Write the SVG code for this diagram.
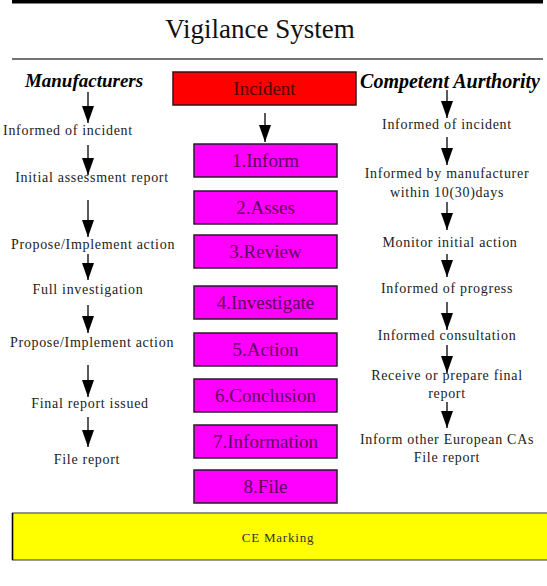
<svg xmlns="http://www.w3.org/2000/svg" width="547" height="586" viewBox="0 0 547 586">
<defs>
<marker id="ah" markerUnits="userSpaceOnUse" markerWidth="18" markerHeight="12" refX="17" refY="6" orient="auto">
<path d="M0,0 L17,6 L0,12 z" fill="#000"/>
</marker>
<style>
text{font-family:"Liberation Serif","Tinos","Times New Roman","DejaVu Serif",serif}
.side{font-size:14px;letter-spacing:0.7px;fill:#222;text-anchor:middle}
.hdr{font-size:19px;font-weight:bold;font-style:italic;fill:#000;text-anchor:middle}
.step rect{fill:#ff00ff;stroke:#2a1a2a;stroke-width:1.5}
.step text{font-size:19px;fill:#5e005e;text-anchor:middle}
.arr{stroke:#000;stroke-width:1.3;fill:none;marker-end:url(#ah)}
</style>
</defs>
<rect width="547" height="586" fill="#fff"/>
<rect x="12" y="0" width="531" height="3.5" fill="#000"/>
<text x="260" y="38" font-size="27" fill="#111" text-anchor="middle">Vigilance System</text>
<line x1="12" y1="59" x2="543" y2="59" stroke="#444" stroke-width="1.5"/>

<g id="manufacturers">
<text class="hdr" x="84" y="87">Manufacturers</text>
<text class="side" x="68" y="135">Informed of incident</text>
<text class="side" x="92" y="182">Initial assessment report</text>
<text class="side" x="93" y="249">Propose/Implement action</text>
<text class="side" x="88" y="294">Full investigation</text>
<text class="side" x="92" y="347">Propose/Implement action</text>
<text class="side" x="90" y="408">Final report issued</text>
<text class="side" x="87" y="464">File report</text>
</g>

<g id="authority">
<text class="hdr" x="450" y="88" style="font-size:20px">Competent Aurthority</text>
<text class="side" x="447" y="129">Informed of incident</text>
<text class="side" x="447" y="178">Informed by manufacturer</text>
<text class="side" x="447" y="197">within 10(30)days</text>
<text class="side" x="450" y="247">Monitor initial action</text>
<text class="side" x="447" y="293">Informed of progress</text>
<text class="side" x="447" y="340">Informed consultation</text>
<text class="side" x="447" y="380">Receive or prepare final</text>
<text class="side" x="447" y="398">report</text>
<text class="side" x="447" y="444">Inform other European CAs</text>
<text class="side" x="447" y="462">File report</text>
</g>

<g id="incident">
<rect x="173" y="72" width="183" height="33" fill="#ff0000" stroke="#3a1010" stroke-width="1.5"/>
<text x="264.5" y="95" font-size="19" fill="#550000" text-anchor="middle">Incident</text>
</g>

<g id="s1" class="step"><rect x="194" y="144" width="143" height="33"/><text x="265.5" y="167">1.Inform</text></g>
<g id="s2" class="step"><rect x="194" y="191" width="143" height="33"/><text x="265.5" y="214">2.Asses</text></g>
<g id="s3" class="step"><rect x="194" y="235" width="143" height="33"/><text x="265.5" y="258">3.Review</text></g>
<g id="s4" class="step"><rect x="194" y="286" width="143" height="33"/><text x="265.5" y="309">4.Investigate</text></g>
<g id="s5" class="step"><rect x="194" y="333" width="143" height="33"/><text x="265.5" y="356">5.Action</text></g>
<g id="s6" class="step"><rect x="194" y="379" width="143" height="33"/><text x="265.5" y="402">6.Conclusion</text></g>
<g id="s7" class="step"><rect x="194" y="425" width="143" height="33"/><text x="265.5" y="448">7.Information</text></g>
<g id="s8" class="step"><rect x="194" y="470" width="143" height="33"/><text x="265.5" y="493">8.File</text></g>

<g id="ce">
<rect x="12.5" y="513" width="545" height="47" fill="#ffff00" stroke="#555" stroke-width="1.2"/>
<line x1="12.5" y1="513" x2="12.5" y2="560" stroke="#000" stroke-width="1.5"/>
<text x="278" y="542" font-size="13" letter-spacing="0.8" fill="#333" text-anchor="middle">CE Marking</text>
</g>

<g id="connectors">
<line class="arr" x1="265" y1="113" x2="265" y2="142"/>
<line class="arr" x1="88" y1="92" x2="88" y2="123"/>
<line class="arr" x1="88" y1="145" x2="88" y2="175"/>
<line class="arr" x1="88" y1="200" x2="88" y2="237"/>
<line class="arr" x1="88" y1="254" x2="88" y2="280"/>
<line class="arr" x1="88" y1="305" x2="88" y2="333"/>
<line class="arr" x1="88" y1="365" x2="88" y2="397"/>
<line class="arr" x1="88" y1="417" x2="88" y2="447"/>
<line class="arr" x1="447" y1="90" x2="447" y2="118"/>
<line class="arr" x1="447" y1="137" x2="447" y2="165"/>
<line class="arr" x1="447" y1="202" x2="447" y2="230"/>
<line class="arr" x1="447" y1="254" x2="447" y2="277"/>
<line class="arr" x1="447" y1="302" x2="447" y2="330"/>
<line class="arr" x1="447" y1="345" x2="447" y2="373"/>
<line class="arr" x1="447" y1="402" x2="447" y2="428"/>
</g>
</svg>
